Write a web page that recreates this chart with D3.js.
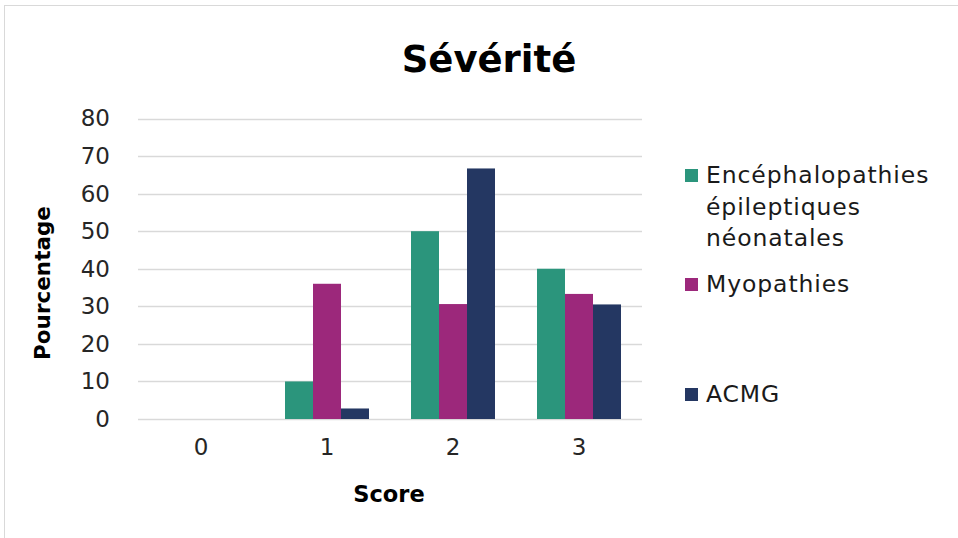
<!DOCTYPE html>
<html><head><meta charset="utf-8">
<script src="https://cdn.jsdelivr.net/npm/d3@7"></script>
<style>body{margin:0;background:#fff}svg{display:block}</style>
</head><body>
<svg id="c" width="958" height="538"></svg>
<script>
const categories = ["0","1","2","3"];
const seriesNames = ["Encéphalopathies épileptiques néonatales","Myopathies","ACMG"];
const encephalopathies = [0, 10, 50, 40];
const myopathies = [0, 36, 30.6, 33.3];
const acmg = [0, 2.8, 66.7, 30.5];
const yTicks = [0,10,20,30,40,50,60,70,80];
const colors = ["#2B957C","#9C287B","#243762"];
const legendLines = [["Encéphalopathies","épileptiques","néonatales"],["Myopathies"],["ACMG"]];

const seriesValues = [encephalopathies, myopathies, acmg];
const font = "'Century Gothic', 'DejaVu Sans', sans-serif";
const svg = d3.select("#c");
svg.append("rect").attr("x",4.5).attr("y",5.5).attr("width",1000).attr("height",600)
  .attr("fill","none").attr("stroke","#d9d9d9");

const pLeft=138, pRight=642, pTop=118.5, pBottom=419;
const x0 = d3.scaleBand().domain(categories).range([pLeft,pRight]);
const bw = x0.bandwidth()/4.5;
const x1 = d3.scaleBand().domain(d3.range(3)).range([0, bw*3]);
const y = d3.scaleLinear().domain([0,80]).range([pBottom, pTop]);

const grid = svg.append("g");
grid.selectAll("line").data(yTicks).join("line")
  .attr("x1",pLeft).attr("x2",pRight).attr("y1",d=>Math.round(y(d))+0.5).attr("y2",d=>Math.round(y(d))+0.5)
  .attr("stroke","#d9d9d9").attr("stroke-width",1.5);

const yAxis = svg.append("g").attr("transform",`translate(${pLeft},0)`)
  .call(d3.axisLeft(y).tickValues(yTicks).tickSize(0).tickPadding(28));
yAxis.select(".domain").remove();
yAxis.selectAll("text").attr("font-family",font).attr("font-size",23).attr("fill","#262626");

const xAxis = svg.append("g").attr("transform",`translate(0,${pBottom})`)
  .call(d3.axisBottom(x0).tickSize(0).tickPadding(24));
xAxis.select(".domain").remove();
xAxis.selectAll("text").attr("font-family",font).attr("font-size",23).attr("fill","#262626").attr("dy","0.5em");

seriesValues.forEach((vals,si)=>{
  svg.append("g").selectAll("rect").data(vals.map((v,i)=>({v,c:categories[i]}))).join("rect")
    .attr("x",d=>x0(d.c)+(x0.bandwidth()-bw*3)/2+x1(si))
    .attr("width",bw)
    .attr("y",d=>y(d.v)).attr("height",d=>pBottom-y(d.v))
    .attr("fill",colors[si]);
});

svg.append("text").attr("x",489).attr("y",72).attr("text-anchor","middle")
  .attr("font-family",font).attr("font-weight","bold").attr("font-size",37).attr("fill","#000").text("Sévérité");
svg.append("text").attr("transform","translate(50,283) rotate(-90)").attr("text-anchor","middle")
  .attr("font-family",font).attr("font-weight","bold").attr("font-size",21.5).attr("fill","#000").text("Pourcentage");
svg.append("text").attr("x",389).attr("y",502).attr("text-anchor","middle")
  .attr("font-family",font).attr("font-weight","bold").attr("font-size",22.5).attr("fill","#000").text("Score");

const legendY = [183, 292, 402];
const lg = svg.append("g");
seriesNames.forEach((n,i)=>{
  lg.append("rect").attr("x",685).attr("y",legendY[i]-14).attr("width",13).attr("height",13).attr("fill",colors[i]);
  const t = lg.append("text").attr("x",706).attr("y",legendY[i]).attr("font-family",font).attr("font-size",23.5)
    .attr("letter-spacing",0.9).attr("fill","#1a1a1a");
  legendLines[i].forEach((l,j)=>t.append("tspan").attr("x",706).attr("dy",j?31.5:0).text(l));
});
</script>
</body></html>
